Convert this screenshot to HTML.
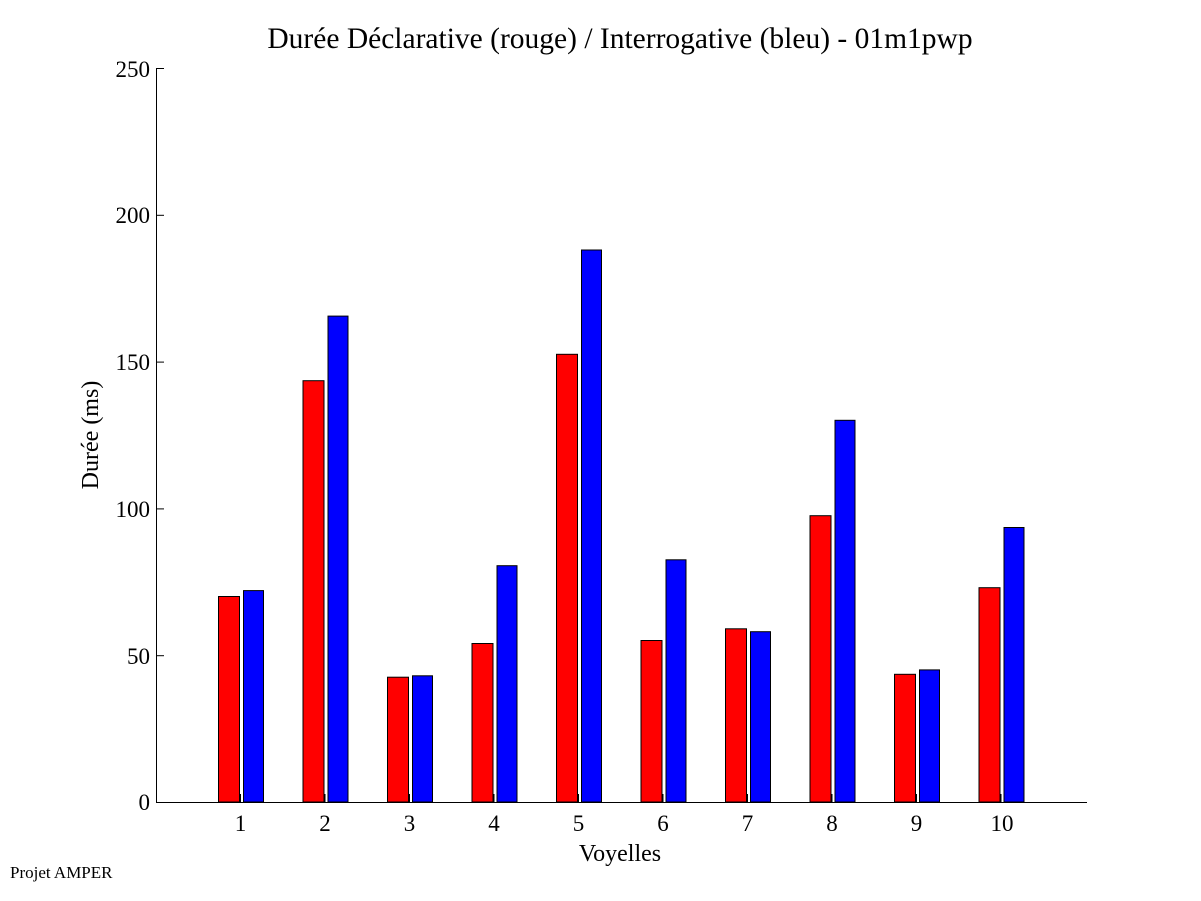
<!DOCTYPE html><html><head><style>body{margin:0;background:#fff}svg{display:block}text{font-family:"Liberation Serif",serif;fill:#000}</style></head><body>
<svg width="1201" height="901" viewBox="0 0 1201 901" xmlns="http://www.w3.org/2000/svg">
<rect width="1201" height="901" fill="#fff"/>
<text x="620" y="48" font-size="29.5" text-anchor="middle">Durée Déclarative (rouge) / Interrogative (bleu) - 01m1pwp</text>
<g stroke="#000" stroke-width="1">
<rect x="218.5" y="596.5" width="21" height="205.5" fill="#ff0000"/><rect x="243.5" y="590.6" width="20" height="211.4" fill="#0000ff"/>
<rect x="303" y="380.7" width="21" height="421.3" fill="#ff0000"/><rect x="328" y="316.1" width="20" height="485.9" fill="#0000ff"/>
<rect x="387.5" y="677.2" width="21" height="124.8" fill="#ff0000"/><rect x="412.5" y="675.8" width="20" height="126.2" fill="#0000ff"/>
<rect x="472" y="643.5" width="21" height="158.5" fill="#ff0000"/><rect x="497" y="565.7" width="20" height="236.3" fill="#0000ff"/>
<rect x="556.5" y="354.3" width="21" height="447.7" fill="#ff0000"/><rect x="581.5" y="250" width="20" height="552" fill="#0000ff"/>
<rect x="641" y="640.5" width="21" height="161.5" fill="#ff0000"/><rect x="666" y="559.8" width="20" height="242.2" fill="#0000ff"/>
<rect x="725.5" y="628.8" width="21" height="173.2" fill="#ff0000"/><rect x="750.5" y="631.7" width="20" height="170.3" fill="#0000ff"/>
<rect x="810" y="515.7" width="21" height="286.3" fill="#ff0000"/><rect x="835" y="420.3" width="20" height="381.7" fill="#0000ff"/>
<rect x="894.5" y="674.3" width="21" height="127.7" fill="#ff0000"/><rect x="919.5" y="669.9" width="20" height="132.1" fill="#0000ff"/>
<rect x="979" y="587.7" width="21" height="214.3" fill="#ff0000"/><rect x="1004" y="527.5" width="20" height="274.5" fill="#0000ff"/>
</g>
<g stroke="#000" stroke-width="1" fill="none">
<line x1="156.5" y1="68" x2="156.5" y2="802"/>
<line x1="156" y1="802.5" x2="1087" y2="802.5"/>
<line x1="156" y1="68.5" x2="164" y2="68.5"/>
<line x1="156" y1="215.3" x2="164" y2="215.3"/>
<line x1="156" y1="362.1" x2="164" y2="362.1"/>
<line x1="156" y1="508.9" x2="164" y2="508.9"/>
<line x1="156" y1="655.7" x2="164" y2="655.7"/>
<line x1="240.5" y1="802" x2="240.5" y2="794"/><line x1="325" y1="802" x2="325" y2="794"/><line x1="409.5" y1="802" x2="409.5" y2="794"/><line x1="494" y1="802" x2="494" y2="794"/><line x1="578.5" y1="802" x2="578.5" y2="794"/><line x1="663" y1="802" x2="663" y2="794"/><line x1="747.5" y1="802" x2="747.5" y2="794"/><line x1="832" y1="802" x2="832" y2="794"/><line x1="916.5" y1="802" x2="916.5" y2="794"/><line x1="1001" y1="802" x2="1001" y2="794"/>
</g>
<g font-size="23" text-anchor="end">
<text x="150" y="77">250</text><text x="150" y="223">200</text><text x="150" y="370">150</text><text x="150" y="517">100</text><text x="150" y="664">50</text><text x="150" y="810">0</text>
</g>
<g font-size="23" text-anchor="middle">
<text x="240.5" y="831">1</text><text x="325" y="831">2</text><text x="409.5" y="831">3</text><text x="494" y="831">4</text><text x="578.5" y="831">5</text><text x="663" y="831">6</text><text x="747.5" y="831">7</text><text x="832" y="831">8</text><text x="916.5" y="831">9</text><text x="1002" y="831">10</text>
</g>
<text x="620" y="861" font-size="24" text-anchor="middle">Voyelles</text>
<text transform="translate(98,435) rotate(-90)" font-size="24" text-anchor="middle">Durée (ms)</text>
<text x="10" y="878" font-size="17">Projet AMPER</text>
</svg></body></html>
